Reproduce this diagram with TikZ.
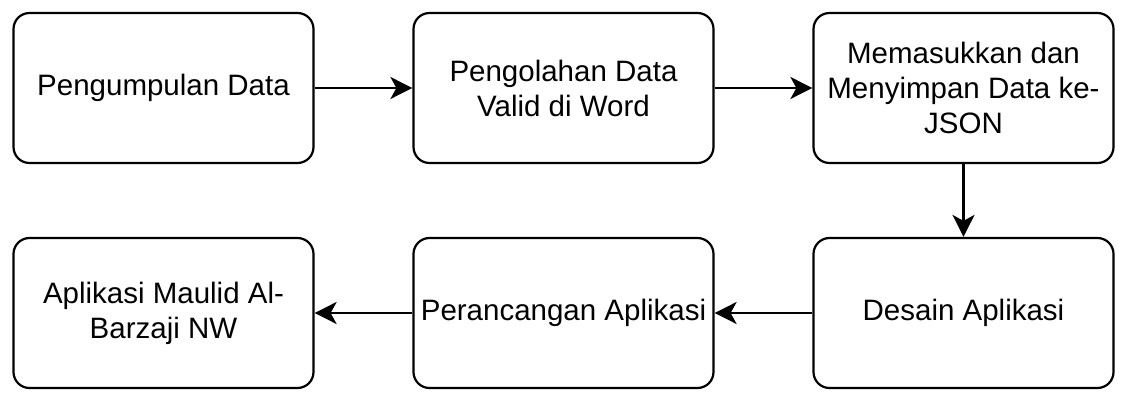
\documentclass[tikz,border=0pt]{standalone}
\usepackage{fontspec}
\setmainfont{Liberation Sans}
\usetikzlibrary{arrows.meta}
\begin{document}
\begin{tikzpicture}[x=1pt,y=-1pt,
  stepbox/.style={draw, line width=2.2pt, rounded corners=16pt, minimum width=300pt, minimum height=150pt, align=center, font=\fontsize{29.5}{35}\selectfont, inner sep=0pt},
  conn/.style={line width=2.2pt, -{Stealth[length=22pt,width=22pt,inset=6pt]}}]
\useasboundingbox (0,0) rectangle (1128,403);
\node[stepbox] (a) at (163.5,88) {Pengumpulan Data};
\node[stepbox] (b) at (563.5,88) {Pengolahan Data\\Valid di Word};
\node[stepbox] (c) at (963.5,88) {Memasukkan dan\\Menyimpan Data ke-\\JSON};
\node[stepbox] (d) at (963.5,313) {Desain Aplikasi};
\node[stepbox] (e) at (563.5,313) {Perancangan Aplikasi};
\node[stepbox] (f) at (163.5,313) {Aplikasi Maulid Al-\\Barzaji NW};
\draw[conn] (a) -- (b);
\draw[conn] (b) -- (c);
\draw[conn] (c) -- (d);
\draw[conn] (d) -- (e);
\draw[conn] (e) -- (f);
\end{tikzpicture}
\end{document}
